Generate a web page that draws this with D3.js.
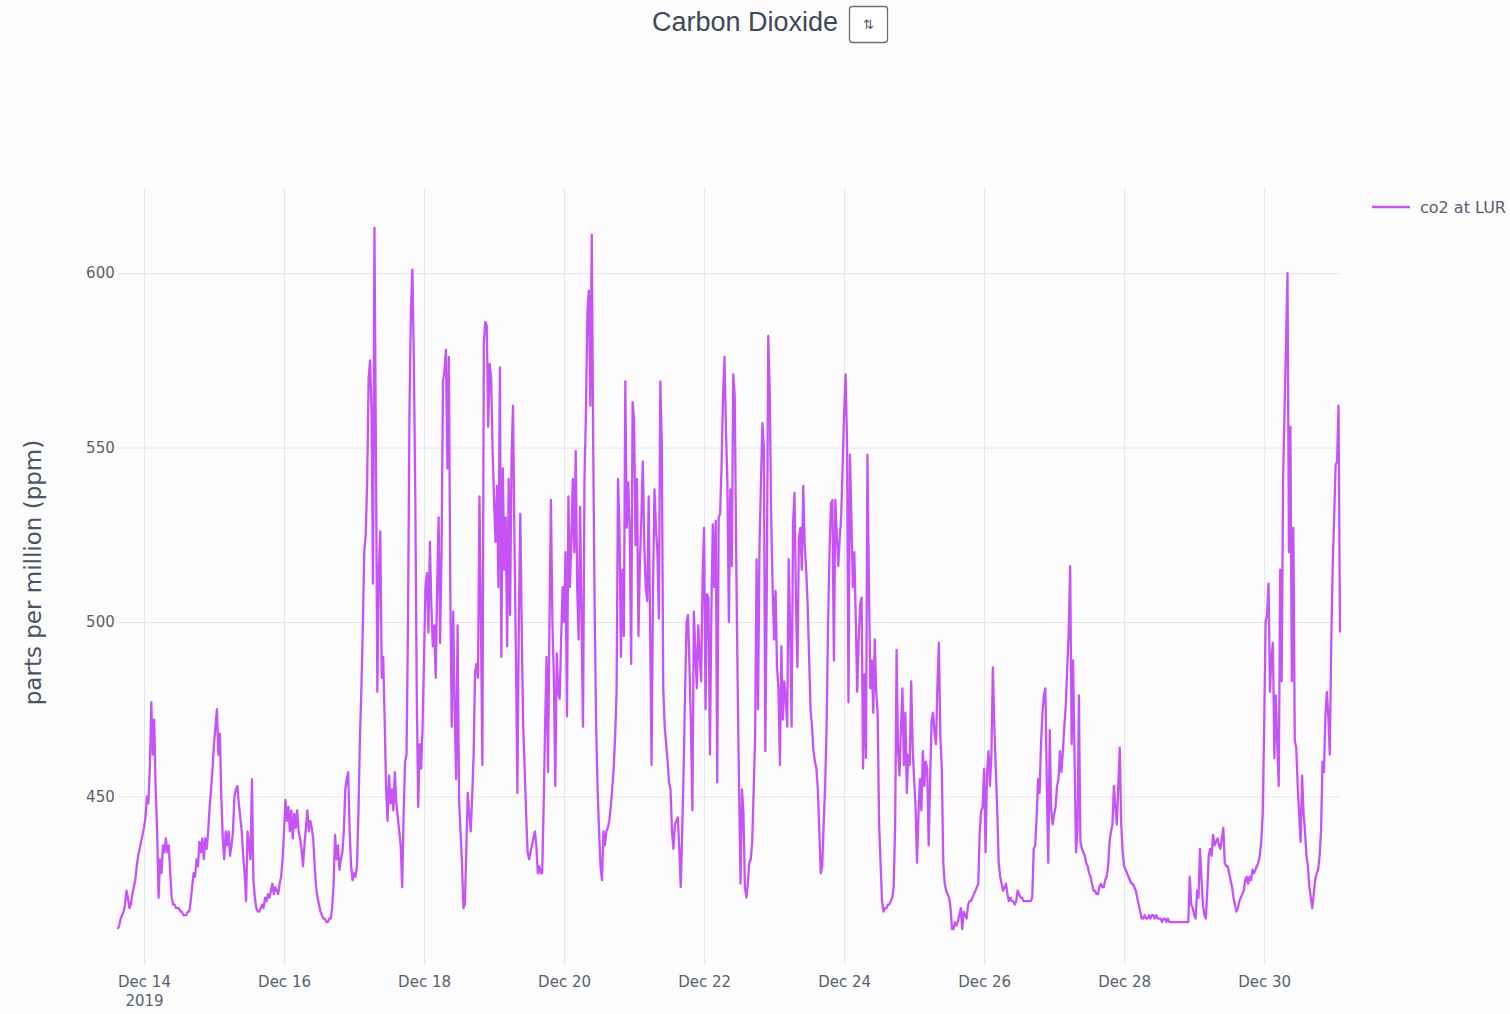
<!DOCTYPE html>
<html>
<head>
<meta charset="utf-8">
<script src="https://cdn.jsdelivr.net/npm/d3@7"></script>
<style>
  html, body { margin: 0; padding: 0; background: #fcfcfc; }
  svg { display: block; }
</style>
</head>
<body>
<svg id="chart" width="1510" height="1014"></svg>
<script>
// ---- data ----
const chartTitle = "Carbon Dioxide";
const yAxisTitle = "parts per million (ppm)";
const seriesName = "co2 at LUR";
const startTime = new Date(2019, 11, 13, 15, 0); // first reading
const stepMinutes = 30;                          // sampling interval

// CO2 readings (ppm), one every 30 minutes
const co2Values = [
  // Dec 13 15:00-23:30
  412,413,415,416,417,419,423,421,418,419,422,424,426,430,433,435,437,439,
  // Dec 14
  441,444,450,448,458,477,462,472,452,440,421,432,428,436,434,438,434,436,428,421,419,419,418,418,
  418,417,417,416,416,416,417,417,420,424,428,427,432,430,437,434,438,432,438,435,440,447,452,458,
  // Dec 15
  465,470,475,462,468,450,438,432,440,436,440,433,436,440,450,452,453,448,444,440,433,428,420,440,
  436,432,455,426,421,418,417,417,418,419,418,421,420,422,421,423,425,422,424,423,422,425,427,432,
  // Dec 16
  440,449,443,447,440,446,438,445,441,446,440,438,435,430,436,441,446,440,443,441,438,430,424,421,
  419,417,416,415,415,414,414,415,415,418,425,439,432,436,429,432,434,440,452,455,457,440,430,426,
  // Dec 17
  428,427,430,445,466,480,498,520,525,540,570,575,560,511,613,549,480,515,526,484,490,472,452,443,
  456,448,452,446,457,448,444,440,436,424,445,460,462,500,560,589,601,575,536,480,447,465,458,470,
  // Dec 18
  490,510,514,497,523,505,493,499,484,510,530,494,520,569,572,578,544,576,510,470,503,475,455,499,
  449,440,431,418,419,435,451,445,440,450,462,486,488,484,536,500,459,580,586,585,556,574,570,549,
  // Dec 19
  535,523,539,510,573,490,544,515,530,493,541,502,547,562,523,490,451,500,531,497,470,458,445,434,
  432,434,436,438,440,436,428,430,428,428,447,470,490,457,500,535,500,484,453,491,480,478,495,510,
  // Dec 20
  500,520,473,536,510,523,541,520,549,510,495,533,500,470,541,560,589,595,562,611,549,503,470,452,
  440,430,426,440,436,440,441,443,447,452,458,467,480,541,527,490,515,496,569,527,540,527,488,563,
  // Dec 21
  558,522,541,496,517,530,546,522,510,506,536,499,459,510,538,527,520,501,569,551,481,470,465,460,
  454,452,440,435,442,443,444,435,424,440,458,480,500,502,487,470,446,503,492,481,499,490,483,513,
  // Dec 22
  527,475,508,507,462,503,528,510,529,454,530,531,545,565,576,555,540,500,538,516,571,565,520,483,
  452,425,452,445,424,421,425,431,432,437,452,467,518,475,522,540,557,550,463,510,582,566,530,510,
  // Dec 23
  495,509,487,481,459,493,472,483,478,470,518,499,470,528,537,505,487,524,527,515,539,522,515,505,
  490,475,470,463,460,458,452,440,428,430,442,453,470,499,520,534,535,489,535,525,516,524,530,545,
  // Dec 24
  560,571,552,477,548,530,510,520,501,480,495,505,507,458,485,461,548,511,481,489,474,495,480,474,
  442,431,420,417,418,418,419,419,420,421,424,442,492,463,456,470,481,459,474,451,462,459,483,464,
  // Dec 25
  455,447,431,445,455,446,463,453,460,458,436,455,472,474,468,465,482,494,467,458,431,425,423,422,
  421,418,412,412,414,413,414,416,418,412,417,416,415,419,420,420,421,422,423,424,425,440,446,447,
  // Dec 26
  458,434,457,463,453,462,487,470,458,446,431,427,425,423,424,425,422,420,421,420,420,419,420,423,
  422,421,421,420,420,420,420,420,420,421,435,436,444,455,451,465,474,479,481,453,431,469,446,442,
  // Dec 27
  445,447,453,455,463,457,463,470,476,487,497,516,465,489,461,434,440,479,437,435,434,433,431,430,
  428,427,425,423,423,422,422,424,425,424,424,426,427,430,437,440,442,453,447,442,453,464,442,434,
  // Dec 28
  430,429,428,427,426,425,425,424,423,421,419,417,415,415,416,415,415,416,415,416,416,415,416,415,
  415,415,414,415,415,414,415,414,414,414,414,414,414,414,414,414,414,414,414,414,414,427,419,418,
  // Dec 29
  416,415,423,421,435,427,419,416,415,423,433,435,433,439,436,437,438,436,435,438,441,431,430,430,
  428,426,424,421,419,417,418,420,421,422,423,426,427,425,427,426,429,428,429,430,431,433,437,445,
  // Dec 30
  470,500,502,511,480,490,494,461,479,465,453,515,483,541,561,580,600,520,556,483,527,466,464,453,
  445,437,456,445,440,433,430,424,421,418,422,426,428,429,433,440,460,457,473,480,473,462,494,516,
  // Dec 31 00:00-02:00
  530,545,546,562,497
];

const yTicks = [450, 500, 550, 600];
const xTickDays = [14, 16, 18, 20, 22, 24, 26, 28, 30];
const xTickLabels = ["Dec 14", "Dec 16", "Dec 18", "Dec 20", "Dec 22", "Dec 24", "Dec 26", "Dec 28", "Dec 30"];
const yearLabel = "2019";

// ---- layout ----
const plot = { left: 117.75, right: 1340, top: 188, bottom: 965 };
const tickFont = "'DejaVu Sans', Verdana, sans-serif";
const textColor = "#59606d";
const gridColor = "#e4e5e9";
const lineColor = "#c653f6";

const series = co2Values.map((v, i) => ({
  t: new Date(startTime.getTime() + i * stepMinutes * 60000),
  v
}));
const xTickDates = xTickDays.map(d => new Date(2019, 11, d));

const svg = d3.select("#chart");

const x = d3.scaleTime()
  .domain([series[0].t, series[series.length - 1].t])
  .range([plot.left, plot.right]);

const y = d3.scaleLinear()
  .domain([401.7, 624.4])
  .range([plot.bottom, plot.top]);

// vertical grid + x labels
const xAxis = d3.axisBottom(x)
  .tickValues(xTickDates)
  .tickSize(-(plot.bottom - plot.top))
  .tickPadding(11)
  .tickFormat((d, i) => xTickLabels[i]);

const gx = svg.append("g")
  .attr("transform", `translate(0,${plot.bottom})`)
  .call(xAxis);
gx.select(".domain").remove();
gx.selectAll(".tick line").attr("stroke", gridColor).attr("stroke-width", 1);
gx.selectAll(".tick text")
  .attr("fill", textColor)
  .style("font-family", tickFont)
  .style("font-size", "15px");
gx.selectAll(".tick text").filter((d, i) => i === 0)
  .append("tspan")
  .attr("x", 0)
  .attr("dy", "1.3em")
  .text(yearLabel);

// horizontal grid + y labels
const yAxis = d3.axisLeft(y)
  .tickValues(yTicks)
  .tickSize(-(plot.right - plot.left))
  .tickPadding(3);

const gy = svg.append("g")
  .attr("transform", `translate(${plot.left},0)`)
  .call(yAxis);
gy.select(".domain").remove();
gy.selectAll(".tick line").attr("stroke", gridColor).attr("stroke-width", 1);
gy.selectAll(".tick text")
  .attr("fill", textColor)
  .style("font-family", tickFont)
  .style("font-size", "15px");

// CO2 trace
const line = d3.line()
  .x(d => x(d.t))
  .y(d => y(d.v));

svg.append("path")
  .datum(series)
  .attr("fill", "none")
  .attr("stroke", lineColor)
  .attr("stroke-width", 2.3)
  .attr("stroke-linejoin", "round")
  .attr("d", line);

// axis title
svg.append("text")
  .attr("transform", `translate(41,${(plot.top + plot.bottom) / 2 - 4}) rotate(-90)`)
  .attr("text-anchor", "middle")
  .attr("fill", "#4a5568")
  .style("font-family", tickFont)
  .style("font-size", "23px")
  .text(yAxisTitle);

// title and sort toggle
svg.append("text")
  .attr("x", 745)
  .attr("y", 31)
  .attr("text-anchor", "middle")
  .attr("fill", "#3e4858")
  .style("font-family", "'Liberation Sans', Arial, sans-serif")
  .style("font-size", "27px")
  .text(chartTitle);

svg.append("rect")
  .attr("x", 849.5).attr("y", 6.5)
  .attr("width", 38).attr("height", 36)
  .attr("rx", 3)
  .attr("fill", "#ffffff")
  .attr("stroke", "#6b6f76")
  .attr("stroke-width", 1.3);
svg.append("text")
  .attr("x", 868.5).attr("y", 29)
  .attr("text-anchor", "middle")
  .attr("fill", "#555a62")
  .style("font-family", tickFont)
  .style("font-size", "13px")
  .text("⇅");

// legend
const legend = svg.append("g").attr("transform", "translate(1372,207)");
legend.append("line")
  .attr("x1", 0).attr("x2", 38)
  .attr("stroke", lineColor)
  .attr("stroke-width", 2.3);
legend.append("text")
  .attr("x", 48).attr("y", 5.5)
  .attr("fill", textColor)
  .style("font-family", tickFont)
  .style("font-size", "16px")
  .text(seriesName);
</script>
</body>
</html>
